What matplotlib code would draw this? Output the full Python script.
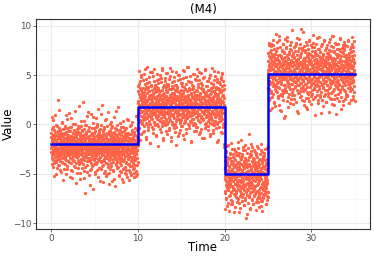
import numpy as np
import matplotlib.pyplot as plt

# segment boundaries (Time) and fitted step levels
breaks = [0, 10, 20, 25, 35]
levels = [-2.0, 1.8, -5.0, 5.14]

# observed values, one list per segment and sampling pass (evenly spaced in time)
seg1 = [
    -0.9, -2.4, -3.1, -1.7, -1.5, -4.0, 0.8, -2.2, -2.9, -0.3, -1.1, -3.6, -2.0, -2.6, -1.4, -5.2, -1.9, -0.6, -3.3, -2.5, -2.7, 1.0, -1.2, -2.1, -3.8, -1.6,
    -2.3, -0.1, -3.0, -4.4, -1.8, -2.8, -2.0, -1.0, -3.5, -0.7, -2.6, 2.5, -1.4, -3.2, -2.4, -4.1, -1.3, -0.4, -2.9, -1.9, -3.7, -2.2,
    -1.5, -1.1, -2.7, -0.9, -4.8, -3.1, -2.0, -1.7, 0.3, -2.5, -3.4, -1.2, -2.3, -2.8, -0.5, -3.9, -1.6, -2.1, -4.5, -1.0, -3.0, -2.6, -0.2, -1.8,
    -3.3, -2.4, -1.4, -5.0, -2.0, -0.8, -1.9, -3.6, -2.7, 0.6, -1.3, -2.2, -3.1, -4.2, -1.6, -2.9, -0.4, -2.5, -1.1, -3.8, -1.7, -2.3, 1.2,
    -2.0, -3.4, -1.5, -2.6, -0.7, -2.2, -4.6, -1.9, -3.0, -1.2, -2.8, -0.3, -3.5, -2.4, -1.8, -5.4, -2.1, -0.9, -1.4, -3.2, -2.7, 0.1,
    -1.6, -2.5, -3.7, -2.9, -0.6, -1.1, -4.3, -2.0, -2.3, 1.4, -3.1, -1.7, -2.6, -3.9, -0.8, -1.3, -2.4, -4.9, -2.8, -1.0, -3.3, -0.2, -2.1, -1.5, -2.9,
    -3.6, -0.4, -2.2, -1.9, -4.0, -2.7, -1.2, -5.5, -0.9, -2.5, -3.0, -1.6, 0.4, -2.3, -3.8, -1.4, -2.0, -4.4, -0.7, -2.8, -1.8,
    -2.6, -3.2, -1.1, 2.3, -2.1, -3.5, -1.7, -0.5, -4.7, -2.4, -1.3, -2.9, -3.3, -0.1, -2.0, -1.5, -6.9, -2.7, -3.1, -1.0, -2.2, -0.8, -3.7,
    -1.9, -2.5, 0.9, -4.1, -1.4, -3.4, -2.3, -0.6, -2.8, -1.2, -5.1, -2.0, -3.0, -1.6, -0.3, -3.6, -2.6, -4.6, -1.8, -2.1, 1.1, -2.9, -1.1, -3.9,
    -2.4, -0.9, -1.5, -4.2, -3.2, -2.2, 0.2, -1.7, -2.7, -3.5, -1.0, -6.5, -2.0, -0.4, -3.1, -1.3, -2.5, -4.8, -1.9, -2.8, -0.7,
    -3.4, -1.6, -2.3, 0.7, -2.9, -4.0, -1.2, -2.6, -0.2, -3.8, -1.8, -2.1, -5.3, -1.4, -3.0, -2.4, 1.6, -0.8, -2.7, -3.6, -1.5, -4.4, -2.0,
    -1.1, -2.8, -3.3, -0.5, -1.9, -4.5, -2.2, -2.5, -0.1, -3.7, -1.3, 2.0, -2.9, -1.7, -3.1, -5.8, -2.3, -0.6, -1.6, -4.1, -2.6, -1.0,
    -3.5, -2.0, -0.3, -2.7, -4.7, -1.4, -3.2, 0.5, -2.4, -1.8, -3.9, -2.1, -1.2, -5.0, -0.9, -2.8, -3.4, -1.5, -2.5, 1.3, -4.3, -2.2, -1.7, -3.0,
    -2.6, -0.7, -1.9, -3.6, -4.9, -2.3, -1.1, -2.8, 0.0, -3.3, -1.6, -2.0, -4.2, -0.4, -2.9, -1.3, -5.7, -2.5, -3.1, -1.8, -0.2,
    -2.1, -3.8, -1.4, -2.7, -4.6, -0.8, -3.2, -2.4, 0.8, -1.7, -3.5, -2.9, -1.0, -6.2, -2.2, -3.0, -1.5, -0.5, -4.0, -2.6, -1.9, -3.7,
    -0.1, -2.5, -1.2, -4.4, -3.4, -2.0, -1.6, 1.8, -2.8, -3.1, -0.9, -5.2, -2.3, -1.4, -3.9, -2.7, -0.6, -4.7, -1.8, -2.1, -3.3,
    -2.9, -1.1, -4.1, -0.3, -2.6, -3.6, -1.7, -5.5, -2.4, 0.4, -3.0, -1.3, -2.2, -4.5, -1.9, -2.8, -0.7, -3.5, -1.5, -4.9, -2.5, -1.0, -3.2,
    -2.0, -4.3, -1.6, -3.8, -0.4, -2.7, -5.0, -2.2, -1.2, -3.1, 0.6, -2.9, -4.0, -1.8, -3.4, -0.9, -2.4, -5.6, -1.4, -3.0, -2.6, -4.6,
    -1.7, -3.3, -0.2, -2.5, -4.8, -2.1, -3.7, -1.0, -2.8, -5.1, -1.5, -0.6, -3.5, -2.3, -4.2, 0.3, -2.9, -1.9, -3.9, -2.6, -1.3,
    -4.4, -2.0, -3.2, -0.8, -2.7, -5.3, -1.6, -3.6, -2.4, -1.1, -4.1, -2.9, 0.9, -3.0, -1.8, -4.7, -2.2, -0.5, -3.4, -2.6, -5.0, -1.4, -2.1,
]
seg2 = [
    2.4, 0.6, 3.9, 1.2, 5.4, 2.0, -0.4, 3.1, 1.7, 2.8, 0.3, 4.4, 1.5, -1.6, 2.6, 3.5, 0.9, 1.9, 4.8, 2.2, 0.0, 3.3, 1.4,
    2.9, -0.8, 1.8, 3.7, 0.5, 2.3, 5.1, 1.1, 2.7, -0.2, 3.0, 1.6, 4.1, 0.8, 2.1, 3.6, -1.3, 1.3, 2.5, 4.6, 0.2,
    1.9, 3.2, 5.8, 0.7, 2.4, 1.0, 3.8, -0.6, 2.0, 1.5, 4.3, 2.8, 0.4, 1.7, 3.4, -1.9, 2.2, 5.3, 1.2, 0.1, 3.0, 2.6,
    0.9, 4.0, 1.4, 2.9, -0.3, 3.5, 1.8, 0.6, 2.3, 4.9, 1.1, 3.1, -0.9, 2.0, 1.6, 3.7, 0.3, 2.7, 5.6, 1.3, 2.1, -0.1, 3.3, 1.9,
    2.5, 0.8, 3.9, 1.0, -1.1, 2.2, 4.5, 1.7, 2.9, 0.0, 3.6, 1.4, 2.0, -2.2, 4.2, 1.2, 2.6, 0.5, 3.1, 1.8, 5.0,
    1.5, 2.8, -0.5, 3.4, 2.1, 0.7, 4.7, 1.9, 1.1, 3.0, -0.2, 2.4, 5.5, 1.6, 0.4, 3.8, 2.3, -1.4, 1.3, 2.7, 4.0, 0.9,
    3.2, 1.0, 2.0, 0.2, 4.4, 2.6, 1.7, -0.7, 3.5, 1.2, 2.9, 5.2, 0.6, 1.8, 3.3, -1.0, 2.2, 4.1, 1.4, 0.3, 2.5, 3.9, 1.6,
    0.8, 2.7, 4.6, 1.3, -0.4, 3.0, 2.1, 0.5, 1.9, 5.7, 2.4, 1.0, 3.6, -1.7, 2.0, 1.5, 4.3, 0.1, 2.8, 3.2, 1.1,
    2.3, -0.1, 3.7, 1.6, 2.6, 4.8, 0.7, 1.8, 3.1, -0.8, 2.2, 1.3, 4.0, 2.9, 0.4, 1.5, 5.3, 2.5, -0.3, 3.4, 1.9, 0.9,
    3.8, 1.2, 2.0, -1.2, 2.7, 4.5, 1.4, 0.6, 3.3, 2.1, 1.0, 5.0, 1.7, -0.6, 2.4, 3.0, 0.2, 1.9, 4.2, 2.6, 1.1, 3.5,
    0.5, 2.9, 1.6, 3.9, -0.2, 2.2, 1.3, 4.7, 2.0, 0.8, 3.2, 1.8, -1.5, 2.5, 5.4, 1.0, 2.7, 3.6, 0.3, 1.5, 2.3,
    4.1, 1.9, 0.7, 2.8, -0.9, 3.4, 1.2, 2.4, 5.8, 1.6, 0.1, 3.0, 2.1, 4.4, 1.4, -0.4, 2.6, 3.7, 0.9, 1.8, 2.2, 4.9, 1.1,
    2.5, 0.4, 3.1, 1.7, -1.8, 2.3, 4.3, 1.0, 2.9, 0.6, 3.6, 2.0, 1.3, 5.1, -0.1, 2.7, 1.5, 3.9, 0.2, 2.1, 1.8,
    3.3, 1.6, 0.0, 2.4, 4.6, 1.2, 2.8, -0.7, 3.5, 1.9, 0.8, 2.2, 5.6, 1.4, 3.0, -0.3, 2.6, 4.1, 1.0, 1.7, 3.8, 0.5,
    2.0, 1.1, 4.5, 2.9, -1.0, 1.6, 3.2, 0.3, 2.5, 1.9, 5.2, 0.9, 3.7, 2.3, -0.5, 1.4, 2.7, 4.0, 0.7, 2.1, 3.4, 1.3, 2.8,
    0.6, 3.6, 1.8, -1.4, 2.6, 4.8, 1.2, 2.2, 0.1, 3.0, 1.5, 5.5, 2.4, 0.8, 1.9, 3.3, -0.2, 2.0, 4.4, 1.0, 2.9,
    1.7, 3.9, 0.4, 2.5, 1.3, -0.6, 3.5, 2.1, 4.7, 0.9, 1.6, 2.8, 5.0, 0.2, 3.1, 1.9, -1.2, 2.4, 4.2, 1.1, 2.7, 0.6,
    3.4, 2.0, 1.4, 5.7, 0.5, 2.6, -0.9, 3.8, 1.8, 2.3, 0.3, 4.5, 1.2, 2.9, -0.1, 3.2, 1.6, 2.1, 4.9, 0.8, 1.5, 3.6,
    2.2, -0.4, 1.0, 3.0, 4.3, 1.7, 2.5, 0.0, 3.7, 1.3, 2.8, -1.6, 5.3, 1.9, 0.7, 2.4, 3.5, 1.1, 4.1, 2.0, 0.4,
    1.8, 3.3, 2.6, 0.9, 4.6, -0.8, 2.2, 1.4, 3.9, 0.6, 2.9, 1.6, 5.1, 2.3, -0.3, 3.0, 1.2, 4.4, 0.2, 2.7, 1.9, 3.6, -2.0,
]
seg3 = [
    -4.4, -6.7, -3.2, -5.5, -8.6, -4.9, -2.7, -6.1, -5.0, -7.4, -3.8, -5.8, -4.1, -6.4, -2.2, -5.3, -7.9, -4.6, -6.0, -3.5, -5.6, -8.8,
    -4.2, -6.3, -5.1, -2.9, -7.1, -4.7, -3.4, -5.9, -6.8, -4.0, -1.9, -5.4, -7.6, -3.7, -6.2, -4.5, -5.2, -8.1, -3.0, -6.6, -4.8,
    -5.7, -3.3, -7.0, -4.3, -6.5, -2.5, -5.0, -8.4, -4.1, -6.0, -3.6, -5.5, -7.3, -4.9, -2.8, -6.9, -5.3, -3.9, -7.8, -4.4, -5.9, -6.2, -3.1,
    -4.6, -7.5, -5.2, -2.4, -6.1, -3.8, -5.6, -8.9, -4.0, -6.7, -3.3, -5.1, -7.2, -4.5, -1.6, -6.4, -5.8, -3.5, -7.0, -4.8, -6.3,
    -3.0, -5.4, -7.7, -4.2, -6.0, -2.6, -5.7, -4.4, -8.2, -3.7, -6.6, -5.0, -2.1, -7.4, -4.9, -6.2, -3.4, -5.5, -9.5, -4.1, -6.8, -3.9,
    -5.3, -7.1, -4.3, -2.9, -6.5, -5.9, -3.6, -7.9, -4.7, -5.1, -1.0, -6.1, -4.0, -7.3, -5.6, -3.2, -6.9, -4.6, -8.5, -5.2, -2.7,
    -6.4, -4.5, -5.8, -3.1, -7.6, -4.8, -6.0, -2.3, -5.4, -8.0, -3.9, -6.7, -4.2, -5.1, -7.2, -3.5, -6.3, -4.9, -2.6, -5.7, -7.0, -4.4,
    -3.8, -6.2, -5.0, -8.7, -4.1, -6.8, -2.9, -5.5, -7.5, -4.6, -3.3, -6.1, -5.9, -4.3, -7.8, -2.4, -5.2, -6.6, -4.0, -7.1, -3.6,
    -5.6, -4.7, -7.4, -3.0, -6.4, -5.3, -2.0, -6.9, -4.4, -8.3, -5.0, -3.7, -6.0, -4.8, -7.7, -2.8, -5.8, -4.2, -6.5, -3.4, -7.2, -5.1,
    -4.9, -6.3, -3.2, -7.0, -5.4, -2.5, -6.7, -4.5, -5.7, -8.1, -3.9, -6.1, -4.1, -5.2, -7.6, -3.5, -6.8, -4.7, -5.9, -2.2, -7.3,
]
seg4 = [
    6.4, 3.7, 5.2, 8.0, 4.4, 6.9, 2.5, 5.8, 7.3, 4.1, 6.2, 1.5, 5.5, 7.9, 3.4, 6.6, 4.8, 8.1, 5.0, 2.8, 6.0, 4.3,
    7.1, 5.6, 3.1, 6.3, 4.6, 8.6, 5.3, 2.2, 6.8, 4.0, 7.6, 5.9, 3.6, 4.9, 6.5, 1.9, 5.4, 7.4, 3.9, 6.1, 4.5,
    5.1, 8.4, 3.3, 6.7, 4.2, 5.7, 2.7, 7.0, 5.0, 3.8, 6.4, 9.0, 4.7, 5.5, 2.0, 6.2, 7.8, 4.4, 3.0, 5.9, 6.9, 4.9, 1.4,
    6.0, 4.3, 7.5, 5.2, 2.9, 6.6, 3.5, 8.2, 5.6, 4.8, 6.3, 3.2, 7.2, 5.0, 0.7, 6.1, 4.6, 8.7, 5.4, 3.7, 6.8,
    4.0, 5.8, 7.7, 3.4, 6.4, 5.1, 2.4, 7.0, 4.5, 6.0, 8.5, 3.9, 5.3, 6.7, 4.2, 1.8, 5.7, 7.3, 4.9, 6.2, 3.1, 5.5,
    8.0, 4.6, 6.1, 3.6, 5.0, 7.5, 2.6, 6.5, 5.4, 4.1, 9.6, 5.9, 3.3, 6.9, 4.7, 7.1, 2.1, 5.2, 6.3, 4.4, 7.8,
    5.6, 3.0, 6.7, 4.8, 7.4, 5.3, 3.8, 6.0, 8.3, 4.3, 5.7, 2.3, 6.4, 4.9, 7.0, 3.5, 5.1, 8.8, 4.0, 6.2, 5.8, 1.2,
    6.6, 4.5, 5.2, 7.7, 3.2, 6.1, 4.7, 8.1, 5.5, 2.8, 6.8, 4.2, 7.2, 5.0, 3.7, 6.3, 9.7, 4.6, 5.9, 2.5, 7.5, 5.4, 3.9,
    4.4, 6.5, 5.7, 3.4, 7.9, 5.1, 2.0, 6.2, 4.9, 7.3, 3.6, 5.8, 6.7, 4.1, 8.4, 5.3, 2.7, 6.0, 4.7, 7.0, 1.6,
    5.9, 3.8, 6.9, 4.3, 7.6, 5.5, 3.1, 6.4, 4.8, 8.6, 5.0, 2.4, 6.6, 4.5, 7.1, 3.3, 5.6, 6.1, 4.0, 8.0, 5.2, 2.9,
    6.3, 4.6, 7.4, 5.3, 3.5, 6.8, 4.2, 9.1, 5.7, 2.6, 6.0, 4.9, 7.8, 3.7, 5.4, 6.5, 1.0, 5.1, 7.2, 4.4, 6.2,
    3.9, 5.8, 8.2, 4.7, 6.6, 3.0, 5.5, 7.0, 4.1, 6.3, 2.2, 5.9, 7.6, 4.5, 5.2, 8.9, 3.6, 6.1, 4.8, 6.9, 2.8, 5.0,
    7.3, 4.3, 6.0, 5.6, 3.3, 7.9, 4.9, 6.4, 2.5, 5.7, 8.1, 4.0, 6.7, 5.1, 3.8, 7.1, 4.6, 1.9, 6.2, 5.4, 8.5,
    4.2, 6.5, 3.1, 5.9, 7.5, 4.8, 6.1, 2.3, 5.3, 7.7, 4.4, 6.8, 3.5, 5.6, 8.0, 4.0, 6.3, 2.9, 7.2, 5.0, 4.7, 6.6, 1.3,
    5.8, 7.0, 3.7, 6.2, 4.5, 8.7, 5.2, 2.7, 6.9, 4.1, 5.5, 7.4, 3.2, 6.0, 4.9, 9.0, 5.7, 2.1, 6.4, 4.3, 7.8,
    3.4, 6.7, 5.1, 4.6, 7.3, 2.6, 5.9, 6.2, 4.0, 8.3, 5.4, 3.0, 6.5, 4.8, 7.1, 5.6, 1.1, 6.0, 4.4, 7.6, 5.3, 3.8,
    6.8, 4.2, 5.7, 8.1, 3.6, 6.3, 4.9, 2.4, 7.0, 5.5, 4.1, 6.6, 8.8, 3.3, 5.0, 7.4, 4.6, 6.1, 2.8, 5.8, 6.9,
    4.5, 7.7, 5.2, 3.9, 6.4, 2.0, 5.6, 7.2, 4.3, 6.0, 8.4, 3.5, 5.9, 4.8, 7.5, 2.6, 6.3, 5.1, 4.0, 8.0, 5.4, 6.7,
    3.1, 6.2, 4.7, 7.9, 5.5, 2.9, 6.5, 4.4, 5.8, 8.6, 3.7, 6.0, 4.9, 7.1, 2.2, 5.3, 6.8, 4.1, 7.6, 5.0, 3.4,
    6.1, 4.6, 7.3, 5.7, 2.5, 6.4, 4.2, 8.2, 5.2, 3.6, 6.9, 4.8, 7.8, 5.9, 2.9, 6.6, 4.3, 8.5, 5.4, 7.0, 3.9, 6.2, 2.4,
]

# second sampling pass over the same segments
seg1b = [
    -2.8, -1.3, -0.5, -3.4, -2.2, -4.3, -1.8, -2.6, 0.5, -3.0, -1.5, -2.1, -3.9, -0.8, -2.4, -1.1,
    -3.6, -2.0, -5.0, -1.6, -2.7, -0.2, -3.2, -1.9, -2.5, -4.1, -1.2, 1.5, -2.9, -3.5, -1.4,
    -2.3, -0.6, -4.6, -2.8, -1.7, -3.1, -2.0, 0.2, -1.0, -3.8, -2.6, -5.6, -1.3, -2.2, -0.9, -3.3, -2.4,
    -1.9, -4.0, -0.4, -2.7, -3.5, -1.5, -2.1, 1.0, -3.0, -1.1, -2.9, -4.5, -1.8, -0.7, -3.7,
    -2.4, -1.4, -3.1, -2.0, -5.3, -0.3, -2.6, -1.7, -3.9, -2.2, 0.7, -1.2, -3.4, -2.8, -4.7, -1.6,
    -0.9, -2.5, -3.6, -1.3, -2.1, -4.2, 0.1, -3.0, -1.9, -2.7, -5.9, -1.0, -3.3, -2.3, -0.5,
    -1.8, -2.9, -4.4, -1.5, -3.2, -0.8, -2.0, 1.9, -2.6, -3.8, -1.1, -2.4, -4.9, -1.7, -0.2, -3.5, -2.2,
    -3.1, -1.4, -2.8, -0.6, -4.0, -2.5, -1.2, -5.4, -2.0, 0.4, -3.6, -1.6, -2.3, -4.3, -1.0,
    -2.7, -0.1, -3.3, -1.9, -2.1, -4.8, -1.3, -3.0, 1.3, -2.5, -1.7, -3.7, -0.7, -2.9, -6.1, -1.5,
    -2.2, -3.4, -1.1, -4.5, -2.6, -0.4, -1.8, -3.1, -2.0, 0.8, -4.1, -1.4, -2.8, -3.6, -0.9, -2.4,
    -1.6, -5.0, -2.3, -3.9, -0.3, -2.7, -1.2, -3.2, -4.6, -1.9, 0.0, -2.5, -3.5, -1.0, -2.1,
    -4.4, -1.7, -2.9, -0.6, -3.3, -5.7, -1.3, -2.4, -3.8, 1.1, -2.0, -1.5, -4.2, -2.6, -0.8, -3.0,
    -2.2, -1.1, -3.7, -4.9, -0.5, -2.8, -1.8, -3.4, -2.3, 0.6, -1.4, -5.2, -2.6, -3.1, -1.6, -0.2, -2.9,
    -4.0, -1.9, -2.5, -3.6, -1.0, -6.0, -2.1, -0.7, -3.2, -1.5, -4.5, -2.7, 0.3, -3.9, -1.2,
    -2.4, -3.5, -0.9, -1.7, -4.7, -2.3, -3.0, -1.3, -5.5, -2.0, -0.4, -3.3, -2.8, -1.6, -4.1, 1.4,
    -2.6, -1.1, -3.8, -2.2, -0.6, -4.3, -1.8, -3.1, -2.5, -5.1, -1.4, -2.9, 0.2, -3.6, -2.0, -1.0,
    -3.4, -4.8, -1.5, -2.7, -0.8, -3.0, -2.3, -5.8, -1.9, -3.7, -0.3, -2.4, -4.4, -1.2, -2.1,
    -3.2, -1.6, -0.5, -4.6, -2.8, -3.9, -1.3, -2.2, -5.3, -0.9, -2.6, -3.5, -1.7, 0.5, -4.0, -2.5,
    -1.0, -3.1, -2.9, -4.2, -1.4, -0.1, -3.7, -2.0, -5.0, -1.8, -2.7, -3.3, -0.7, -4.5, -2.4, -1.5,
    -3.6, -2.1, -4.9, -1.1, -2.8, -3.4, -0.4, -2.3, -5.2, -1.9, -3.0, -4.1, -1.3, -2.6, -0.6, -3.8,
]
seg2b = [
    1.1, 3.4, 2.2, -0.4, 4.1, 1.6, 2.8, 0.5, 3.7, 1.9, -1.0, 2.5, 5.0, 1.3, 0.2, 3.1,
    2.0, 0.8, 4.5, 2.7, 1.4, -0.7, 3.3, 1.8, 2.4, 5.6, 0.6, 2.9, 1.2, -1.5, 3.8,
    2.3, 1.5, 0.0, 4.2, 2.6, 1.0, 3.5, -0.3, 1.7, 2.9, 4.8, 0.9, 2.1, 3.0, -1.9, 1.4, 2.6,
    3.9, 0.7, 2.0, 1.3, 5.3, 2.4, -0.5, 3.2, 1.6, 0.3, 4.4, 2.8, 1.1, 3.6, 0.1,
    2.2, 4.0, 1.9, -1.2, 2.7, 0.6, 3.4, 1.5, 5.1, 2.3, 0.9, -0.2, 3.7, 1.2, 2.5, 4.6,
    1.8, 0.4, 3.0, 2.1, -0.8, 4.3, 1.4, 2.6, 0.2, 3.5, 5.7, 1.0, 2.0, -1.6, 3.1,
    1.6, 2.9, 0.8, 4.7, 2.2, 1.3, -0.1, 3.8, 2.5, 0.5, 1.9, 5.2, 3.3, 0.0, 2.7, 1.1, 4.1,
    2.4, -0.6, 3.6, 1.7, 0.7, 2.8, 4.9, 1.2, 3.0, -1.3, 2.1, 1.5, 3.9, 0.3, 2.6,
    5.4, 1.0, 2.3, 0.9, 3.2, -0.4, 1.8, 4.4, 2.7, 0.1, 3.5, 1.4, 2.0, -2.1, 4.0, 2.9,
    1.3, 3.7, 0.6, 2.5, 1.9, 5.0, -0.9, 2.2, 3.3, 1.1, 0.4, 4.6, 2.8, 1.6, 3.1, -0.2,
    2.0, 0.8, 4.2, 1.5, 2.6, -1.1, 3.4, 5.5, 1.2, 2.3, 0.2, 3.8, 1.7, 2.9, 0.5,
    3.6, 1.0, -0.5, 2.4, 4.8, 1.8, 2.1, 0.7, 3.0, 1.4, 5.8, 2.7, -0.1, 1.9, 3.5, 0.9,
    2.5, 4.3, 1.3, 3.2, 0.3, 2.0, -1.7, 2.8, 1.6, 4.0, 0.6, 3.7, 2.2, 1.1, 5.1, -0.7, 2.6,
    1.5, 3.0, 0.1, 2.3, 4.5, 1.9, 2.9, -0.3, 3.4, 1.2, 0.8, 4.9, 2.1, 1.7, 3.8,
    0.4, 2.6, 1.0, 5.3, 2.4, -0.8, 3.1, 1.6, 2.0, 4.2, 0.7, 2.8, 1.3, -1.4, 3.6, 2.2,
    1.8, 4.7, 0.5, 2.7, 3.3, 1.1, -0.4, 2.5, 5.6, 1.5, 0.2, 3.9, 2.0, 1.4, 3.0, 0.9,
    2.9, -0.2, 1.7, 4.4, 2.3, 0.6, 3.5, 1.2, 2.6, 5.0, -1.0, 2.1, 3.7, 0.8, 1.9,
    3.2, 1.4, 2.5, 0.0, 4.1, 1.8, 2.8, -0.6, 3.4, 1.1, 5.4, 2.2, 0.4, 3.0, 1.6, 2.4,
    0.9, 3.8, 2.0, -1.8, 2.7, 4.6, 1.3, 0.3, 3.1, 2.3, 1.0, 4.3, -0.3, 2.6, 1.5, 3.6,
    2.1, 0.5, 4.8, 1.7, 3.3, -0.9, 2.4, 1.2, 5.2, 2.9, 0.1, 3.5, 1.8, -2.3, 2.0, 4.0,
]
seg3b = [
    -5.2, -3.6, -6.9, -4.4, -7.5, -2.8, -5.7, -4.0, -6.3, -8.3, -3.3, -5.0, -6.6, -4.7, -2.1, -5.9,
    -4.3, -7.2, -5.4, -3.0, -6.1, -4.9, -8.0, -3.7, -5.6, -6.8, -2.5, -4.6, -7.7, -5.1, -3.9,
    -6.4, -4.1, -5.3, -8.9, -3.4, -6.0, -4.8, -2.7, -7.1, -5.5, -4.2, -6.7, -3.1, -5.8, -7.4, -4.5, -1.8,
    -5.0, -6.5, -3.8, -7.9, -4.3, -5.7, -2.9, -6.2, -4.9, -8.5, -3.5, -5.2, -6.9, -4.0, -7.3,
    -3.2, -5.6, -4.6, -6.4, -2.3, -7.0, -5.1, -3.9, -8.2, -4.4, -6.1, -5.4, -2.6, -7.6, -4.8, -6.0,
    -3.6, -5.9, -4.1, -9.1, -5.3, -2.4, -6.6, -4.7, -7.2, -3.3, -5.5, -6.3, -4.2, -8.6, -3.0,
    -5.8, -4.5, -6.8, -2.0, -5.0, -7.5, -3.7, -6.1, -4.9, -5.6, -8.0, -3.4, -6.5, -4.0, -7.1, -5.3, -2.8,
    -4.6, -6.2, -5.4, -3.1, -7.8, -4.3, -6.7, -2.2, -5.1, -7.3, -4.8, -3.8, -6.0, -5.7, -8.4, -4.1,
    -6.9, -3.5, -5.2, -4.7, -7.7, -2.6, -6.3, -5.5, -3.9, -8.8, -4.4, -6.6, -5.0, -3.2, -7.4, -4.9,
    -2.9, -6.1, -5.8, -4.2, -7.0, -3.6, -5.3, -6.4, -4.5, -8.1, -2.4, -5.6, -7.2, -4.0, -6.8,
]
seg4b = [
    5.5, 7.2, 3.6, 6.0, 4.4, 8.3, 5.1, 2.7, 6.7, 4.8, 7.5, 3.2, 5.8, 6.4, 1.7, 5.0,
    6.9, 4.2, 5.6, 8.0, 3.9, 6.2, 4.7, 2.3, 7.1, 5.3, 4.0, 6.6, 9.2, 4.5, 5.9,
    3.4, 6.1, 7.7, 5.2, 2.9, 6.5, 4.3, 5.7, 8.6, 3.7, 6.3, 4.9, 1.5, 7.0, 5.4, 4.1, 6.8,
    5.0, 3.1, 7.4, 5.8, 4.6, 6.0, 2.5, 8.1, 5.3, 4.0, 6.7, 3.5, 7.3, 5.6, 0.9,
    6.4, 4.8, 5.1, 7.8, 3.3, 6.2, 4.4, 8.9, 5.7, 2.8, 6.6, 4.2, 7.1, 5.0, 3.8, 6.0,
    4.7, 7.6, 2.2, 5.5, 6.3, 4.1, 8.4, 5.9, 3.0, 6.9, 4.5, 5.2, 7.2, 3.6, 6.1,
    5.4, 2.6, 6.8, 4.3, 7.9, 5.1, 3.9, 6.5, 4.9, 8.2, 1.4, 5.7, 6.2, 4.6, 7.4, 3.2, 5.9,
    6.6, 4.0, 5.3, 8.7, 3.4, 6.3, 4.8, 7.0, 2.9, 5.6, 6.0, 4.2, 7.7, 5.0, 3.7,
    6.1, 9.4, 4.4, 5.8, 2.4, 6.7, 5.2, 3.5, 7.5, 4.7, 6.4, 5.5, 1.8, 6.0, 4.1, 8.0,
    3.3, 5.7, 6.8, 4.5, 7.2, 2.7, 5.4, 6.2, 4.9, 8.5, 3.8, 6.5, 5.1, 4.3, 7.0, 2.1,
    6.3, 4.6, 5.9, 7.8, 3.1, 6.0, 4.2, 8.3, 5.5, 3.6, 6.9, 4.8, 7.4, 5.2, 2.8,
    4.0, 6.6, 5.3, 7.1, 3.4, 6.1, 8.8, 4.7, 5.8, 2.5, 6.4, 4.4, 7.6, 5.0, 3.9, 6.7,
    5.6, 3.0, 7.3, 4.9, 6.2, 1.2, 5.4, 8.1, 4.1, 6.8, 3.7, 5.9, 7.0, 4.5, 6.0, 2.9, 8.6,
    4.3, 6.5, 5.1, 3.5, 7.7, 4.8, 6.3, 2.3, 5.7, 7.2, 4.0, 6.9, 5.3, 3.2, 6.1,
    7.5, 4.6, 5.5, 8.4, 3.8, 6.0, 4.2, 2.6, 6.7, 5.0, 7.9, 4.4, 6.4, 3.3, 5.8, 9.0,
    4.9, 6.2, 3.6, 7.4, 5.2, 2.0, 6.6, 4.7, 5.6, 8.2, 3.9, 6.1, 4.3, 7.1, 5.4, 2.7,
    6.8, 4.5, 5.9, 3.1, 7.6, 5.0, 4.0, 6.3, 8.7, 3.5, 5.7, 6.5, 1.6, 5.3, 4.8,
    5.1, 7.3, 3.7, 6.0, 4.6, 8.0, 5.5, 2.4, 6.9, 4.2, 7.7, 5.8, 3.4, 6.4, 4.9, 2.9,
    6.1, 4.4, 7.0, 5.3, 3.0, 6.7, 8.5, 4.1, 5.6, 6.2, 2.2, 7.2, 4.7, 5.9, 3.8, 6.5,
    4.3, 7.8, 5.2, 3.6, 6.0, 4.8, 8.9, 5.7, 2.6, 6.6, 4.5, 7.4, 5.0, 3.3, 6.3, 5.5,
]
passes = [[seg1, seg2, seg3, seg4], [seg1b, seg2b, seg3b, seg4b]]

fig = plt.figure(figsize=(3.74, 2.57), dpi=100)
ax = fig.add_axes([0.0963, 0.109, 0.8927, 0.817])

# points, spread evenly over each segment's time span
for segs in passes:
    for k, vals in enumerate(segs):
        t = np.linspace(breaks[k], breaks[k + 1], len(vals), endpoint=False)
        ax.scatter(t, vals, s=5.6, color='#FF6347', linewidths=0, zorder=2)

# step function of the segment means
ax.step(breaks, levels + [levels[-1]], where='post', color='#0000FF', lw=1.8, zorder=3)

ax.set_xlim(-1.75, 36.75)
ax.set_ylim(-10.58, 10.68)
ax.set_xticks([0, 10, 20, 30])
ax.set_yticks([-10, -5, 0, 5, 10])
ax.set_xticks([5, 15, 25, 35], minor=True)
ax.set_yticks([-7.5, -2.5, 2.5, 7.5], minor=True)
ax.grid(which='major', color='#EBEBEB', lw=0.8, zorder=0)
ax.grid(which='minor', color='#F4F4F4', lw=0.5, zorder=0)
ax.set_axisbelow(True)
ax.tick_params(which='major', labelsize=6.3, labelcolor='#4D4D4D', color='#333333',
               length=2, width=0.5, pad=1.5)
ax.tick_params(which='minor', length=0)
for sp in ax.spines.values():
    sp.set_color('#333333')
    sp.set_linewidth(0.8)

ax.set_xlabel('Time', fontsize=8.5)
ax.set_ylabel('Value', fontsize=8.5)
ax.xaxis.set_label_coords(0.5, -0.057)
ax.yaxis.set_label_coords(-0.064, 0.5)
ax.set_title('(M4)', fontsize=8.5, pad=4)

fig.savefig('out.png', dpi=100)
